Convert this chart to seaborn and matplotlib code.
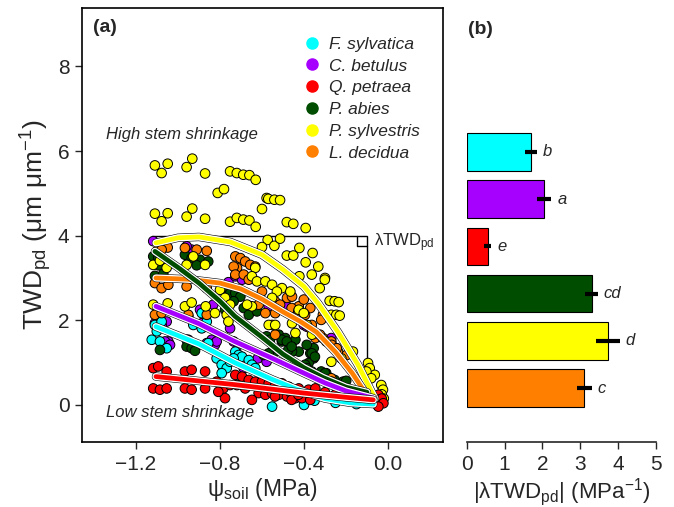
import numpy as np
import pandas as pd
import matplotlib
matplotlib.use("Agg")
import matplotlib.pyplot as plt
import matplotlib.patheffects as pe
from matplotlib.lines import Line2D
from matplotlib.ticker import FuncFormatter
import seaborn as sns

sns.set_style("ticks")
plt.rcParams["font.family"] = ["Liberation Sans", "DejaVu Sans"]
plt.rcParams["mathtext.fontset"] = "custom"
plt.rcParams["mathtext.rm"] = "Liberation Sans"
plt.rcParams["mathtext.it"] = "Liberation Sans:italic"
plt.rcParams["mathtext.bf"] = "Liberation Sans:bold"

# ---------------------------------------------------------------- data
species = ["F. sylvatica", "C. betulus", "Q. petraea", "P. abies", "P. sylvestris", "L. decidua"]
colors = ["#00FFFF", "#A600FF", "#FF0000", "#004D00", "#FFFF00", "#FF7F00"]

# pre-dawn stem shrinkage (TWDpd) vs soil water potential, per species
fs_psi = [-1.110, -1.078, -1.125, -1.086, -1.054, -1.101, -0.951, -0.927, -0.887, -0.863, -0.887, -0.959,
          -0.935, -0.856, -0.910, -0.816, -0.792, -0.768, -0.752, -0.792, -0.727, -0.711, -0.695, -0.735,
          -0.663, -0.648, -0.632, -0.600, -0.552, -0.550, -0.500, -0.450, -0.400, -0.350, -0.250, -0.150,
          -0.050, -0.030]
fs_twd = [1.89, 1.97, 1.54, 1.50, 1.34, 1.74, 2.09, 1.89, 2.17, 1.97, 1.81, 1.54,
          1.46, 1.46, 1.40, 1.10, 0.95, 0.87, 1.02, 0.75, 1.26, 1.18, 1.14, 1.10,
          1.06, 0.95, 0.87, 0.60, -0.04, 0.45, 0.30, 0.20, 0.00, 0.10, 0.05, 0.02,
          0.00, 0.10]

cb_psi = [-1.118, -0.935, -0.959, -1.054, -1.078, -1.110, -1.046, -1.062, -1.038, -0.951, -0.887, -0.863,
          -0.840, -0.895, -0.832, -0.824, -0.816, -0.760, -0.752, -0.727, -0.695, -0.735, -0.711, -0.687,
          -0.620, -0.578, -0.568, -0.481, -0.450, -0.401, -0.387, -0.300, -0.270, -0.050]
cb_twd = [3.87, 3.67, 3.75, 1.97, 1.89, 1.93, 1.50, 1.50, 1.42, 1.54, 1.93, 1.46,
          1.54, 2.25, 2.37, 1.42, 1.50, 2.90, 1.81, 3.04, 2.96, 1.50, 1.42, 0.87,
          1.10, 1.02, 2.33, 2.33, 0.95, 1.89, 1.85, 0.60, 1.58, 0.15]

qp_psi = [-1.118, -1.094, -1.054, -1.118, -1.086, -1.054, -0.967, -0.935, -0.871, -0.967, -0.935, -0.871,
          -0.816, -0.784, -0.776, -0.808, -0.752,
          -0.727, -0.695, -0.663, -0.632, -0.600, -0.568, -0.537, -0.505, -0.473, -0.425, -0.378, -0.346,
          -0.719, -0.680, -0.616, -0.584, -0.552, -0.520, -0.481, -0.441, -0.410, -0.370, -0.648,
          -0.490, -0.467, -0.538, -0.459, -0.427,
          -0.300, -0.250, -0.200, -0.150, -0.100,
          -0.046, -0.038, -0.030, -0.022, -0.046]
qp_twd = [0.87, 0.91, 0.79, 0.39, 0.36, 0.39, 0.79, 0.83, 0.79, 0.39, 0.36, 0.39,
          0.55, 0.39, 0.16, 0.31, 0.47,
          0.71, 0.67, 0.59, 0.55, 0.55, 0.51, 0.47, 0.51, 0.43, 0.39, 0.36, 0.39,
          0.47, 0.39, 0.28, 0.24, 0.28, 0.24, 0.20, 0.16, 0.16, 0.12, 0.12,
          0.36, 0.31, 0.20, 0.12, 0.24,
          0.30, 0.25, 0.20, 0.15, 0.20,
          0.24, 0.12, 0.15, 0.04, -0.04]

pa_psi = [-1.118, -1.094, -1.062, -0.967, -0.935, -0.895, -0.856,
          -1.094, -0.911, -1.110, -1.070,
          -0.776, -0.768, -0.744, -0.752, -0.776, -0.760,
          -1.086, -0.959, -0.935, -0.919,
          -0.727, -0.703, -0.687, -0.656, -0.663, -0.624, -0.735,
          -0.520, -0.505, -0.489, -0.465, -0.441, -0.425, -0.370, -0.354, -0.354, -0.378, -0.457, -0.537,
          -0.568, -0.592,
          -0.318, -0.294, -0.214, -0.199, -0.254,
          -0.578, -0.562, -0.506, -0.482, -0.475, -0.459, -0.387, -0.363, -0.348, -0.395, -0.387, -0.363,
          -0.300]
pa_twd = [3.51, 3.47, 3.39, 3.55, 3.47, 3.43, 3.39,
          3.30, 3.30, 3.05, 3.10,
          2.68, 2.56, 2.49, 2.64, 2.25, 2.21,
          1.30, 1.38, 1.34, 1.28,
          2.64, 2.56, 2.29, 2.33, 2.13, 2.21, 2.45,
          1.66, 1.50, 1.58, 1.42, 1.54, 1.26, 1.22, 1.34, 1.10, 0.99, 1.26, 1.26,
          1.22, 1.18,
          0.79, 0.75, 0.55, 0.57, 0.59,
          1.62, 1.54, 1.54, 1.50, 1.30, 1.38, 1.42, 1.22, 1.14, 0.95, 0.87, 0.79,
          0.75]

ps_psi = [-1.110, -1.049, -1.078, -0.959, -0.932, -0.871,
          -0.752, -0.720, -0.689, -0.660, -0.630, -0.811, -0.781, -0.578, -0.600,
          -1.110, -1.049, -1.078, -0.959, -0.932, -0.871,
          -0.752, -0.720, -0.689, -0.660, -0.630, -0.573, -0.600,
          -0.570, -0.541, -0.514, -0.482, -0.451, -0.392, -0.541, -0.514,
          -0.422, -0.359, -0.482, -0.451, -0.392, -0.332, -0.363, -0.300, -0.422,
          -0.301, -0.325, -0.278, -0.254, -0.235, -0.270, -0.246, -0.230,
          -0.095, -0.087, -0.063, -0.032, -0.024, -0.103, -0.080, -0.270, -0.222, -0.167,
          -0.632, -0.648, -0.624, -0.584, -0.552, -0.505, -0.529, -0.465, -0.425, -0.401,
          -0.552, -0.648, -0.671, -0.568, -0.537, -0.457, -0.441, -0.386, -0.362,
          -0.800, -0.776, -0.752, -0.768, -0.760, -0.824,
          -1.118, -1.086, -1.054, -1.118, -1.049,
          -0.967, -0.935, -0.868, -0.927, -0.959, -0.871,
          -0.030, -0.020]
ps_twd = [5.66, 5.70, 5.48, 5.62, 5.82, 5.47,
          5.52, 5.48, 5.44, 5.43, 5.32, 5.01, 5.10, 4.89, 4.63,
          4.52, 4.53, 4.34, 4.45, 4.64, 4.40,
          4.33, 4.42, 4.38, 4.36, 4.21, 3.90, 3.73,
          4.87, 4.85, 4.84, 4.32, 4.28, 4.18, 3.76, 3.93,
          3.71, 3.59, 3.53, 3.53, 3.37, 3.27, 3.08, 3.00, 3.04,
          2.96, 2.76, 2.46, 2.45, 2.43, 2.13, 2.13, 2.11,
          0.99, 0.87, 0.71, 0.47, 0.36, 0.79, 0.63, 1.02, 1.10, 1.26,
          3.24, 3.04, 2.92, 2.92, 2.84, 2.76, 2.68, 2.68, 2.25, 2.17,
          2.53, 2.33, 2.37, 1.89, 1.89, 1.93, 1.70, 1.89, 1.66,
          2.72, 2.53, 2.37, 2.13, 1.97, 2.17,
          3.31, 3.41, 3.24, 2.37, 2.40,
          2.33, 2.42, 2.33, 3.51, 3.31, 3.31,
          0.25, 0.15]

ld_psi = [-1.049, -1.101, -1.078, -0.967, -0.911, -0.863,
          -1.110, -1.078, -1.046, -0.959, -0.863,
          -1.110, -1.078, -0.951, -0.863,
          -0.727, -0.703, -0.680, -0.656, -0.632, -0.719, -0.735, -0.727, -0.687, -0.663,
          -0.600, -0.616, -0.584, -0.537, -0.552, -0.537, -0.481, -0.457, -0.425, -0.401, -0.370, -0.370,
          -0.354, -0.346,
          -0.310, -0.294, -0.270, -0.246, -0.238, -0.310, -0.270, -0.318,
          -0.538, -0.514, -0.459, -0.427, -0.395, -0.363, -0.324, -0.268, -0.244, -0.197, -0.268,
          -0.040]
ld_twd = [3.72, 3.63, 3.67, 3.71, 3.67, 3.64,
          2.88, 2.76, 2.84, 2.80, 2.76,
          2.13, 2.17, 2.13, 2.13,
          3.51, 3.47, 3.39, 3.31, 3.27, 3.24, 3.27, 3.08, 3.08, 2.96,
          2.68, 2.37, 2.17, 2.17, 1.89, 1.66, 2.53, 2.56, 2.33, 2.49, 2.29, 1.81,
          1.66, 1.58,
          1.58, 1.50, 1.50, 1.34, 1.26, 2.13, 0.63, 2.01,
          2.45, 2.37, 2.29, 2.21, 2.13, 1.89, 1.66, 1.42, 1.34, 1.18, 0.55,
          0.20]

# fitted response curves (psi, TWDpd)
fit_fs_psi = [-1.105, -0.90, -0.73, -0.55, -0.43, -0.30, -0.18, -0.07]
fit_fs_twd = [1.85, 1.44, 1.00, 0.60, 0.36, 0.15, 0.05, 0.02]
fit_cb_psi = [-1.105, -0.90, -0.73, -0.55, -0.43, -0.30, -0.20, -0.07]
fit_cb_twd = [2.33, 1.92, 1.50, 1.10, 0.82, 0.52, 0.33, 0.16]
fit_qp_psi = [-1.105, -0.73, -0.40, -0.20, -0.07]
fit_qp_twd = [0.67, 0.48, 0.28, 0.18, 0.12]
fit_pa_psi = [-1.11, -1.00, -0.90, -0.80, -0.73, -0.60, -0.50, -0.40, -0.31, -0.20, -0.10]
fit_pa_twd = [3.63, 3.25, 2.88, 2.45, 2.10, 1.60, 1.20, 0.88, 0.65, 0.42, 0.30]
fit_ps_psi = [-1.105, -1.00, -0.90, -0.75, -0.60, -0.50, -0.40, -0.333, -0.238, -0.143, -0.062]
fit_ps_twd = [3.83, 3.95, 3.97, 3.85, 3.55, 3.20, 2.80, 2.40, 1.72, 0.95, 0.15]
fit_ld_psi = [-1.105, -0.95, -0.80, -0.70, -0.60, -0.50, -0.42, -0.34, -0.25, -0.17, -0.11]
fit_ld_twd = [3.00, 2.97, 2.88, 2.74, 2.50, 2.20, 1.98, 1.72, 1.25, 0.75, 0.30]

# slope of TWDpd vs psi_soil (absolute value) with standard errors and group letters
lam_abs = [1.71, 2.05, 0.55, 3.30, 3.73, 3.11]
lam_err = [0.16, 0.19, 0.10, 0.17, 0.31, 0.20]
groups = ["b", "a", "e", "cd", "d", "c"]

# ---------------------------------------------------------------- frames
pts = {
    "F. sylvatica": (fs_psi, fs_twd), "C. betulus": (cb_psi, cb_twd), "Q. petraea": (qp_psi, qp_twd),
    "P. abies": (pa_psi, pa_twd), "P. sylvestris": (ps_psi, ps_twd), "L. decidua": (ld_psi, ld_twd),
}
fits = {
    "F. sylvatica": (fit_fs_psi, fit_fs_twd), "C. betulus": (fit_cb_psi, fit_cb_twd),
    "Q. petraea": (fit_qp_psi, fit_qp_twd), "P. abies": (fit_pa_psi, fit_pa_twd),
    "P. sylvestris": (fit_ps_psi, fit_ps_twd), "L. decidua": (fit_ld_psi, fit_ld_twd),
}
palette = dict(zip(species, colors))
draw_order = ["C. betulus", "F. sylvatica", "P. abies", "L. decidua", "P. sylvestris", "Q. petraea"]
scatter_df = pd.concat(
    [pd.DataFrame({"psi": pts[s][0], "twd": pts[s][1], "species": s}) for s in draw_order],
    ignore_index=True)
bar_df = pd.DataFrame({"species": species, "lam": lam_abs, "err": lam_err})

# ---------------------------------------------------------------- figure
fig = plt.figure(figsize=(6.74, 5.07), dpi=100)
axA = fig.add_axes([0.1217, 0.1282, 0.5356, 0.856])
axB = fig.add_axes([0.6924, 0.1282, 0.2809, 0.856])

# panel (a): reference box for the slope definition
axA.plot([-1.125, -0.098, -0.098], [4.0, 4.0, 0.2], color="black", lw=1.0, zorder=1)
axA.plot([-0.146, -0.146, -0.098], [4.0, 3.76, 3.76], color="black", lw=1.0, zorder=1)

sns.scatterplot(data=scatter_df, x="psi", y="twd", hue="species", palette=palette,
                s=48, edgecolor="black", linewidth=0.7, legend=False, zorder=2, ax=axA)

for s in ["P. sylvestris", "L. decidua", "P. abies", "C. betulus", "F. sylvatica", "Q. petraea"]:
    fx, fy = fits[s]
    axA.plot(fx, fy, color=palette[s], lw=3.4, solid_capstyle="round", solid_joinstyle="round",
             zorder=4,
             path_effects=[pe.Stroke(linewidth=6.0, foreground="black", capstyle="round", joinstyle="round"),
                           pe.Stroke(linewidth=5.2, foreground="white", capstyle="round", joinstyle="round"),
                           pe.Normal()])

axA.set_xlim(-1.457, 0.262)
axA.set_ylim(-0.876, 9.38)
axA.set_xticks([-1.2, -0.8, -0.4, 0.0])
axA.set_yticks([0, 2, 4, 6, 8])
axA.xaxis.set_major_formatter(FuncFormatter(lambda v, p: f"{v:.1f}".replace("-", "\u2212")))
axA.yaxis.set_major_formatter(FuncFormatter(lambda v, p: f"{v:.0f}"))
axA.tick_params(direction="out", length=5, width=1.0, labelsize=15, pad=4)
for sp in axA.spines.values():
    sp.set_linewidth(1.2)
    sp.set_color("black")
axA.set_xlabel("\u03c8$_{\\mathrm{soil}}$ (MPa)", fontsize=16.5, labelpad=2)
axA.set_ylabel("TWD$_{\\mathrm{pd}}$ (\u03bcm \u03bcm$^{-1}$)", fontsize=19, labelpad=3)

axA.text(0.03, 0.955, "(a)", transform=axA.transAxes, fontsize=14, fontweight="bold",
         ha="left", va="center")
axA.text(-1.343, 6.39, "High stem shrinkage", fontsize=12, style="italic", ha="left", va="center")
axA.text(-1.343, -0.17, "Low stem shrinkage", fontsize=12, style="italic", ha="left", va="center")
axA.text(-0.068, 3.84, "\u03bbTWD$_{\\mathrm{pd}}$", fontsize=12, ha="left", va="center")

handles = [Line2D([], [], ls="", marker="o", markersize=8, markerfacecolor=palette[s],
                  markeredgecolor=palette[s]) for s in species]
axA.legend(handles, species, loc="upper left", bbox_to_anchor=(0.612, 0.934), frameon=False,
           prop={"style": "italic", "size": 12.5}, handlelength=1.0, handletextpad=0.5,
           labelspacing=0.38, borderpad=0, borderaxespad=0)

# panel (b): slopes per species
sns.barplot(data=bar_df, x="lam", y="species", hue="species", palette=palette, order=species,
            hue_order=species, dodge=False, width=0.8, saturation=1, edgecolor="black",
            linewidth=0.8, errorbar=None, legend=False, ax=axB)
axB.errorbar(bar_df["lam"], np.arange(len(species)), xerr=bar_df["err"], fmt="none",
             ecolor="black", elinewidth=3.0, capsize=0, zorder=5)
for i, (v, e, g) in enumerate(zip(lam_abs, lam_err, groups)):
    axB.text(v + e + 0.15, i, g, fontsize=12, style="italic", ha="left", va="center")

axB.set_xlim(0, 5)
axB.set_ylim(6.144, -3.05)
axB.set_xticks([0, 1, 2, 3, 4, 5])
axB.set_yticks([])
axB.set_ylabel("")
axB.set_xlabel("|\u03bbTWD$_{\\mathrm{pd}}$| (MPa$^{-1}$)", fontsize=16, labelpad=2)
axB.tick_params(axis="x", direction="out", length=5, width=1.0, labelsize=15, pad=4)
for side in ["left", "top", "right"]:
    axB.spines[side].set_visible(False)
axB.spines["bottom"].set_linewidth(1.2)
axB.spines["bottom"].set_bounds(0, 5)
axB.set_facecolor("none")
fig.text(0.694, 0.941, "(b)", fontsize=14, fontweight="bold", ha="left", va="center")

fig.savefig("out.png", dpi=100)
